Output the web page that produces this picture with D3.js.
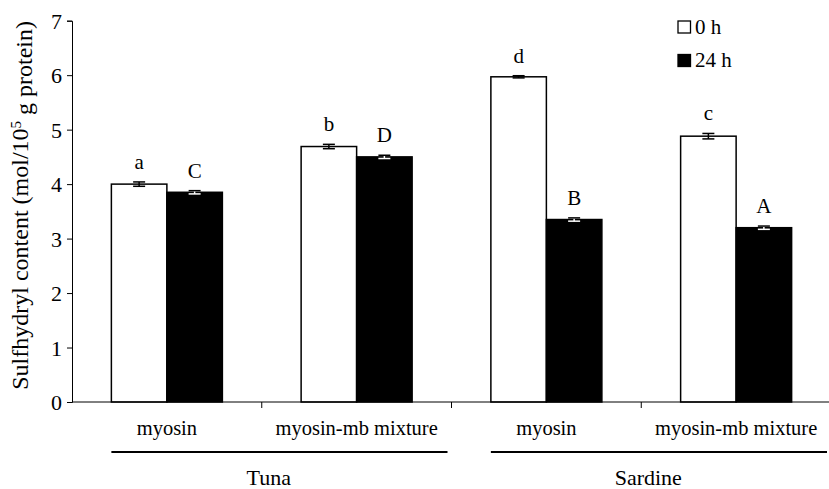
<!DOCTYPE html>
<html>
<head>
<meta charset="utf-8">
<script src="https://cdn.jsdelivr.net/npm/d3@7"></script>
<style>
  body { margin: 0; background: #fff; }
  svg text { font-family: "Liberation Serif", "Times New Roman", serif; fill: #000; }
</style>
</head>
<body>
<div id="chart"></div>
<script>
// data
var categories = ["Tuna myosin", "Tuna mix", "Sardine myosin", "Sardine mix"];
var catLabels = ["myosin", "myosin-mb mixture", "myosin", "myosin-mb mixture"];
var groups = [{name: "Tuna", from: 0, to: 1}, {name: "Sardine", from: 2, to: 3}];
var series = ["0 h", "24 h"];
var values0h = [4.00, 4.69, 5.97, 4.88];
var values24h = [3.85, 4.50, 3.35, 3.20];
var err0h = [0.04, 0.04, 0.02, 0.05];
var err24h = [0.03, 0.03, 0.03, 0.03];
var letters0h = ["a", "b", "d", "c"];
var letters24h = ["C", "D", "B", "A"];
var yTicks = [0, 1, 2, 3, 4, 5, 6, 7];

var width = 829, height = 489;

var svg = d3.select("#chart").append("svg")
    .attr("width", width)
    .attr("height", height);

var x = d3.scaleBand()
    .domain(categories)
    .range([72, 831])
    .padding(0);

var barW = 55.5;
var x1 = d3.scaleBand()
    .domain(series)
    .range([-barW, barW]);

var y = d3.scaleLinear()
    .domain([0, 7])
    .range([402, 20.7]);

// y axis
var yAxis = svg.append("g")
    .attr("transform", "translate(72,0)")
    .call(d3.axisLeft(y).tickValues(yTicks).tickFormat(d3.format("d")).tickSize(5).tickPadding(5));
yAxis.attr("font-family", null).attr("font-size", null);
yAxis.select(".domain").attr("stroke", "#000");
yAxis.selectAll(".tick line").attr("stroke", "#000");
yAxis.selectAll(".tick text")
    .style("font-size", "22px")
    .attr("dy", "0.34em");

// y title
var title = svg.append("text")
    .attr("transform", "translate(28," + (y(3.5) - 6) + ") rotate(-90)")
    .attr("text-anchor", "middle")
    .style("font-size", "24px");
title.append("tspan").text("Sulfhydryl content (mol/10");
title.append("tspan").attr("dy", "-0.45em").style("font-size", "15px").text("5");
title.append("tspan").attr("dy", "0.45em").text(" g protein)");

// bars
var rows = categories.map(function(c, i) {
  return [
    {cat: c, s: "0 h", v: values0h[i], e: err0h[i], l: letters0h[i]},
    {cat: c, s: "24 h", v: values24h[i], e: err24h[i], l: letters24h[i]}
  ];
});

var g = svg.selectAll(".grp")
    .data(rows)
    .enter().append("g")
    .attr("transform", function(d) { return "translate(" + (x(d[0].cat) + x.bandwidth() / 2) + ",0)"; });

g.selectAll("rect")
    .data(function(d) { return d; })
    .enter().append("rect")
    .attr("x", function(d) { return x1(d.s); })
    .attr("width", x1.bandwidth())
    .attr("y", function(d) { return y(d.v); })
    .attr("height", function(d) { return y(0) - y(d.v); })
    .attr("fill", function(d) { return d.s === "0 h" ? "#fff" : "#000"; })
    .attr("stroke", "#000")
    .attr("stroke-width", 1.5);

// error bars
var eb = g.selectAll(".err")
    .data(function(d) { return d; })
    .enter().append("g")
    .attr("transform", function(d) { return "translate(" + (x1(d.s) + x1.bandwidth() / 2) + ",0)"; });
eb.append("line")
    .attr("y1", function(d) { return y(d.v - d.e); })
    .attr("y2", function(d) { return y(d.v + d.e); })
    .attr("stroke", function(d) { return d.s === "0 h" ? "#000" : "#fff"; })
    .attr("stroke-width", 1.5);
eb.selectAll(".cap")
    .data(function(d) { return [{v: d.v + d.e, s: d.s}, {v: d.v - d.e, s: d.s}]; })
    .enter().append("line")
    .attr("x1", -6).attr("x2", 6)
    .attr("y1", function(d) { return y(d.v); })
    .attr("y2", function(d) { return y(d.v); })
    .attr("stroke", function(d, i) { return (d.s === "24 h" && i === 1) ? "#fff" : "#000"; })
    .attr("stroke-width", 1.5);

// significance letters
eb.append("text")
    .attr("y", function(d) { return y(d.v + d.e) - 13; })
    .attr("text-anchor", "middle")
    .style("font-size", "21px")
    .text(function(d) { return d.l; });

// x axis line and category ticks
svg.append("line")
    .attr("x1", 72).attr("x2", width)
    .attr("y1", y(0)).attr("y2", y(0))
    .attr("stroke", "#000").attr("stroke-width", 1);
svg.selectAll(".ctick")
    .data(categories.slice(1))
    .enter().append("line")
    .attr("x1", function(d) { return x(d); })
    .attr("x2", function(d) { return x(d); })
    .attr("y1", y(0)).attr("y2", y(0) + 6)
    .attr("stroke", "#000");

// category labels
svg.selectAll(".clab")
    .data(categories)
    .enter().append("text")
    .attr("x", function(d) { return x(d) + x.bandwidth() / 2; })
    .attr("y", 435)
    .attr("text-anchor", "middle")
    .style("font-size", "20.5px")
    .text(function(d, i) { return catLabels[i]; });

// group lines and labels
groups.forEach(function(gr) {
  var c0 = x(categories[gr.from]) + x.bandwidth() / 2;
  var c1 = x(categories[gr.to]) + x.bandwidth() / 2;
  svg.append("line")
      .attr("x1", c0 - barW)
      .attr("x2", x(categories[gr.to]) + x.bandwidth() - 4)
      .attr("y1", 452).attr("y2", 452)
      .attr("stroke", "#000").attr("stroke-width", 2);
  svg.append("text")
      .attr("x", (c0 + c1) / 2 + 7)
      .attr("y", 485)
      .attr("text-anchor", "middle")
      .style("font-size", "22px")
      .text(gr.name);
});

// legend
var leg = svg.selectAll(".leg")
    .data(series)
    .enter().append("g")
    .attr("transform", function(d, i) { return "translate(678," + (21 + i * 33.5) + ")"; });
leg.append("rect")
    .attr("width", 12.5).attr("height", 12)
    .attr("fill", function(d) { return d === "0 h" ? "#fff" : "#000"; })
    .attr("stroke", "#000").attr("stroke-width", 1.3);
leg.append("text")
    .attr("x", 17)
    .attr("y", 12.5)
    .style("font-size", "21px")
    .text(function(d) { return d; });
</script>
</body>
</html>
